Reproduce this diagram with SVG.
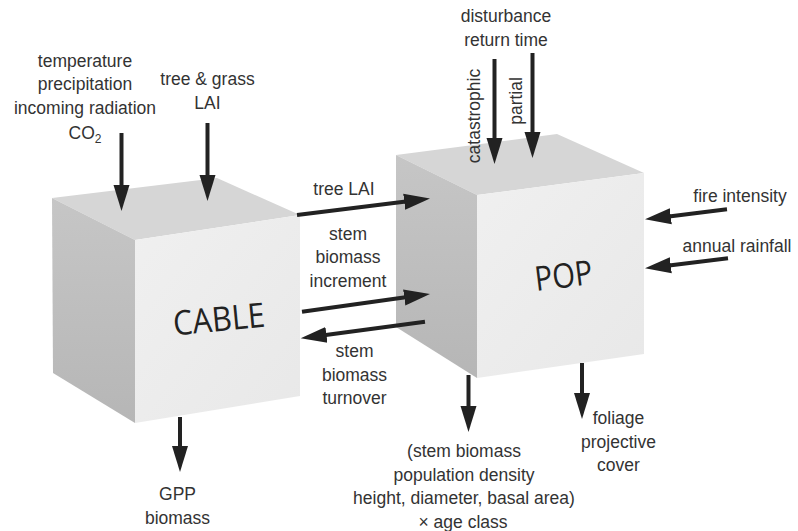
<svg xmlns="http://www.w3.org/2000/svg" width="798" height="531" viewBox="0 0 798 531">
  <defs>
    <linearGradient id="gradFront" x1="0" y1="0" x2="1" y2="1">
      <stop offset="0" stop-color="#f0f0f0"/>
      <stop offset="1" stop-color="#e8e8e8"/>
    </linearGradient>
    <linearGradient id="gradSide" x1="0" y1="0" x2="0" y2="1">
      <stop offset="0" stop-color="#c6c6c6"/>
      <stop offset="1" stop-color="#b6b6b6"/>
    </linearGradient>
    <marker id="head" markerUnits="userSpaceOnUse" markerWidth="28" markerHeight="18" viewBox="0 -9 28 18" refX="14" refY="0" orient="auto">
      <path d="M0,-8 L26,0 L0,8 z" fill="#222"/>
    </marker>
    <style>
      .lbl { font-family: "Liberation Sans", Arial, sans-serif; font-size: 17.5px; fill: #333; text-anchor: middle; }
      .model { font-family: "Open Sans", "Noto Sans", sans-serif; font-size: 34px; fill: #222; text-anchor: middle; }
      .top { fill: #d6d6d6; }
      .side { fill: url(#gradSide); }
      .front { fill: url(#gradFront); }
      .arrow { stroke: #222; stroke-width: 4; fill: none; marker-end: url(#head); }
    </style>
  </defs>

  <rect width="798" height="531" fill="#ffffff"/>

  <!-- CABLE cube -->
  <g id="cable">
    <polygon class="top" points="52,198 217,178 300,215 135,240"/>
    <polygon class="side" points="52,198 135,240 135,423 53,373"/>
    <polygon class="front" points="135,240 300,215 300,396 135,423"/>
    <text class="model" transform="translate(220,331) rotate(-5.5)" textLength="92" lengthAdjust="spacingAndGlyphs">CABLE</text>
  </g>

  <!-- POP cube -->
  <g id="pop">
    <polygon class="top" points="396,155 557,134 644,173 477,195"/>
    <polygon class="side" points="396,155 477,195 477,378 396,327"/>
    <polygon class="front" points="477,195 644,173 644,354 477,378"/>
    <text class="model" transform="translate(565,287.5) rotate(-7)" textLength="58" lengthAdjust="spacingAndGlyphs">POP</text>
  </g>

  <!-- Connectors -->
  <g id="connectors">
    <line class="arrow" x1="121.5" y1="133" x2="121.5" y2="199"/>
    <line class="arrow" x1="207.5" y1="123" x2="207.5" y2="189"/>
    <line class="arrow" x1="494.5" y1="59" x2="494.5" y2="152"/>
    <line class="arrow" x1="532.5" y1="53" x2="532.5" y2="146"/>
    <line class="arrow" x1="297" y1="215" x2="418.1" y2="200"/>
    <line class="arrow" x1="302" y1="311.7" x2="418.1" y2="295.6"/>
    <line class="arrow" x1="425" y1="321.7" x2="312.6" y2="336.7"/>
    <line class="arrow" x1="727" y1="209.3" x2="656.9" y2="217.9"/>
    <line class="arrow" x1="728" y1="258.3" x2="656.9" y2="266.9"/>
    <line class="arrow" x1="180" y1="417" x2="180" y2="460"/>
    <line class="arrow" x1="468.5" y1="375" x2="468.5" y2="420"/>
    <line class="arrow" x1="582" y1="363" x2="582" y2="407"/>
  </g>

  <!-- Input labels for CABLE -->
  <g id="cable-inputs">
    <text class="lbl" x="85" y="66.5">temperature</text>
    <text class="lbl" x="85" y="90">precipitation</text>
    <text class="lbl" x="85" y="113.5">incoming radiation</text>
    <text class="lbl" x="85" y="139">CO<tspan font-size="12" dy="4">2</tspan></text>
    <text class="lbl" x="207.5" y="85">tree &amp; grass</text>
    <text class="lbl" x="207.5" y="109">LAI</text>
  </g>

  <!-- Disturbance inputs for POP -->
  <g id="disturbance">
    <text class="lbl" x="506" y="22">disturbance</text>
    <text class="lbl" x="506" y="45.5">return time</text>
    <text class="lbl" transform="translate(480,116) rotate(-90)">catastrophic</text>
    <text class="lbl" transform="translate(521.5,101) rotate(-90)">partial</text>
  </g>

  <!-- Climate inputs for POP -->
  <g id="pop-inputs">
    <text class="lbl" x="740" y="202">fire intensity</text>
    <text class="lbl" x="737" y="251.5">annual rainfall</text>
  </g>

  <!-- Exchange labels between the models -->
  <g id="exchange">
    <text class="lbl" x="344" y="195">tree LAI</text>
    <text class="lbl" x="348" y="239.5">stem</text>
    <text class="lbl" x="348" y="263">biomass</text>
    <text class="lbl" x="348" y="286.5">increment</text>
    <text class="lbl" x="354.5" y="357">stem</text>
    <text class="lbl" x="354.5" y="380.5">biomass</text>
    <text class="lbl" x="354.5" y="404">turnover</text>
  </g>

  <!-- Outputs -->
  <g id="cable-outputs">
    <text class="lbl" x="177.5" y="500">GPP</text>
    <text class="lbl" x="177.5" y="523.5">biomass</text>
  </g>
  <g id="pop-outputs">
    <text class="lbl" x="464" y="457">(stem biomass</text>
    <text class="lbl" x="464" y="480.5">population density</text>
    <text class="lbl" x="464" y="504">height, diameter, basal area)</text>
    <text class="lbl" x="463" y="527.5">× age class</text>
    <text class="lbl" x="618.5" y="424">foliage</text>
    <text class="lbl" x="618.5" y="447.5">projective</text>
    <text class="lbl" x="618.5" y="471">cover</text>
  </g>
</svg>
